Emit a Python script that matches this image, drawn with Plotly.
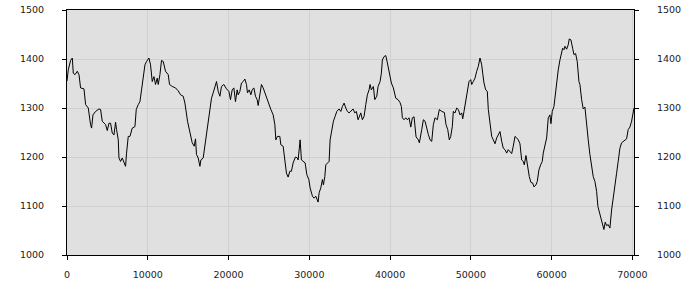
import plotly.graph_objects as go

x_vals = [0, 160, 445, 656, 779, 990, 1274, 1485, 1683, 2103, 2301, 2635, 2920, 3044, 3217, 3538,
          3959, 4157, 4367, 4776, 4986, 5196, 5394, 5604, 5815, 6013, 6137, 6347, 6433, 6631, 6842,
          7052, 7250, 7374, 7584, 7794, 8079, 8413, 8574, 8821, 9032, 9230, 9440, 9650, 9848, 10145,
          10343, 10553, 10764, 10962, 11172, 11296, 11506, 11704, 11914, 12199, 12533, 12694, 13028,
          13436, 13770, 14055, 14389, 14599, 14921, 15218, 15502, 15750, 15911, 16034, 16245, 16455,
          16578, 16863, 17073, 17271, 17482, 17692, 17890, 18100, 18311, 18509, 18719, 18929, 19127,
          19424, 19746, 20043, 20241, 20451, 20661, 20859, 21070, 21193, 21404, 21602, 21812, 22022,
          22220, 22344, 22555, 22765, 22925, 23136, 23334, 23544, 23667, 23878, 24076, 24286, 24497,
          24695, 24905, 25239, 25524, 25734, 25858, 26055, 26352, 26476, 26761, 26971, 27169, 27379,
          27590, 27788, 27998, 28283, 28530, 28616, 28740, 28864, 29025, 29272, 29483, 29693, 29940,
          30101, 30386, 30596, 30806, 31091, 31215, 31425, 31623, 31747, 31920, 32043, 32241, 32452,
          32576, 32737, 32984, 33194, 33404, 33689, 33899, 34097, 34307, 34518, 34716, 34926, 35136,
          35421, 35631, 35829, 36040, 36250, 36374, 36572, 36782, 36992, 37190, 37401, 37524, 37685,
          37932, 38106, 38353, 38514, 38762, 38922, 39046, 39256, 39467, 39665, 39875, 40160, 40407,
          40704, 40989, 41237, 41397, 41521, 41731, 41941, 42139, 42350, 42560, 42758, 42968, 43093,
          43216, 43501, 43624, 43921, 44119, 44329, 44539, 44737, 44948, 45158, 45356, 45566, 45851,
          46098, 46395, 46717, 46927, 47137, 47335, 47508, 47706, 47830, 48041, 48251, 48449, 48659,
          48869, 48993, 49154, 49364, 49562, 49773, 49983, 50107, 50305, 50515, 50725, 50923, 51134,
          51344, 51468, 51629, 51839, 52037, 52161, 52371, 52581, 52779, 52990, 53200, 53398, 53608,
          53818, 54016, 54227, 54437, 54635, 54845, 55055, 55253, 55464, 55674, 55872, 56082, 56293,
          56491, 56614, 56825, 56986, 57233, 57444, 57654, 57815, 58062, 58223, 58433, 58643, 58841,
          58965, 59176, 59386, 59584, 59794, 59918, 60079, 60289, 60413, 60623, 60821, 61031, 61241,
          61365, 61526, 61650, 61860, 62058, 62182, 62392, 62602, 62763, 62973, 63171, 63382, 63506,
          63716, 63914, 64124, 64334, 64532, 64743, 64953, 65151, 65362, 65572, 65733, 65894, 66066,
          66264, 66475, 66636, 66809, 67007, 67217, 67427, 67625, 67836, 68046, 68244, 68454, 68665,
          68863, 69073, 69283, 69481, 69692, 69902, 70200]

y_vals = [1355, 1378, 1397, 1402, 1371, 1368, 1375, 1368, 1341, 1339, 1307, 1300, 1266, 1259, 1286, 1293,
          1298, 1297, 1273, 1266, 1254, 1269, 1269, 1249, 1245, 1271, 1256, 1235, 1198, 1191, 1198,
          1188, 1181, 1208, 1242, 1242, 1259, 1262, 1297, 1307, 1313, 1337, 1364, 1388, 1395, 1402,
          1388, 1354, 1364, 1348, 1361, 1348, 1368, 1397, 1395, 1375, 1368, 1348, 1344,
          1341, 1335, 1327, 1324, 1310, 1273, 1249, 1229, 1222, 1237, 1205, 1198, 1181,
          1194, 1198, 1222, 1246, 1266, 1300, 1320, 1331, 1344, 1354, 1334, 1324, 1344,
          1348, 1339, 1334, 1317, 1337, 1341, 1313, 1337, 1327, 1334, 1351, 1354, 1359,
          1348, 1331, 1337, 1327, 1337, 1341, 1324, 1317, 1305, 1324, 1348, 1341, 1331,
          1324, 1310, 1297, 1286, 1266, 1235, 1242, 1242, 1225, 1222, 1188, 1167, 1159,
          1171, 1171, 1188, 1200, 1198, 1194, 1215, 1235, 1194, 1191, 1188, 1164, 1154,
          1137, 1120, 1116, 1120, 1108, 1127, 1137, 1154, 1143, 1160, 1184, 1188, 1191,
          1235, 1249, 1273, 1283, 1293, 1298, 1293, 1303, 1310, 1300, 1293, 1290, 1293,
          1298, 1290, 1293, 1276, 1286, 1290, 1276, 1283, 1307, 1327, 1337, 1348, 1337,
          1344, 1317, 1324, 1344, 1354, 1371, 1398, 1405, 1407, 1392, 1375, 1351, 1341,
          1320, 1317, 1311, 1303, 1280, 1276, 1280, 1276, 1280, 1261, 1280, 1282, 1262,
          1241, 1235, 1229, 1256, 1276, 1273, 1256, 1246, 1235, 1232, 1266, 1280, 1276,
          1297, 1293, 1291, 1266, 1256, 1235, 1242, 1262, 1293, 1290, 1300, 1297, 1286,
          1290, 1278, 1293, 1313, 1337, 1354, 1358, 1348, 1354, 1361, 1375, 1385, 1402,
          1388, 1371, 1351, 1337, 1334, 1297, 1262, 1242, 1235, 1227, 1239, 1246, 1252,
          1232, 1218, 1215, 1208, 1215, 1211, 1207, 1222, 1242, 1239, 1235, 1227, 1194,
          1191, 1184, 1203, 1184, 1160, 1148, 1147, 1139, 1143, 1150, 1174, 1184, 1191,
          1208, 1222, 1239, 1280, 1286, 1268, 1293, 1303, 1324, 1354, 1378, 1398, 1412,
          1422, 1419, 1426, 1420, 1429, 1441, 1439, 1422, 1409, 1411, 1395, 1354, 1348,
          1317, 1298, 1302, 1262, 1235, 1205, 1184, 1160, 1150, 1130, 1099, 1089, 1076,
          1062, 1052, 1067, 1060, 1062, 1055, 1092, 1113, 1140, 1167, 1191, 1218, 1229,
          1232, 1235, 1237, 1256, 1261, 1273, 1300]

x_ticks = [0, 10000, 20000, 30000, 40000, 50000, 60000, 70000]
y_ticks = [1000, 1100, 1200, 1300, 1400, 1500]

font = dict(family="DejaVu Sans", size=9.5, color="#222222")

fig = go.Figure()
fig.add_trace(go.Scatter(x=x_vals, y=y_vals, mode="lines",
                         line=dict(color="#000000", width=1), showlegend=False))
# invisible trace to activate right axis
fig.add_trace(go.Scatter(x=[x_vals[0]], y=[y_vals[0]], yaxis="y2", mode="lines",
                         line=dict(width=0), showlegend=False, hoverinfo="skip"))

axis_common = dict(showline=True, linecolor="#000000", linewidth=1, ticks="outside",
                   ticklen=4, tickcolor="#000000", tickfont=font, zeroline=False,
                   automargin=False)

fig.update_layout(
    width=700, height=300,
    margin=dict(l=67, r=66, t=10, b=45),
    paper_bgcolor="#ffffff",
    plot_bgcolor="#e0e0e0",
    xaxis=dict(range=[0, 70200], tickvals=x_ticks, ticktext=[str(v) for v in x_ticks],
               showgrid=True, gridcolor="#d0d0d0", gridwidth=1, mirror=True,
               ticklabelstandoff=7, **axis_common),
    yaxis=dict(range=[1000, 1500], tickvals=y_ticks, ticktext=[str(v) for v in y_ticks],
               showgrid=True, gridcolor="#d0d0d0", gridwidth=1,
               ticklabelstandoff=16, **axis_common),
    yaxis2=dict(range=[1000, 1500], tickvals=y_ticks, ticktext=[str(v) for v in y_ticks],
                overlaying="y", side="right", showgrid=False,
                ticklabelstandoff=16, **axis_common),
)

fig.write_html("out.html")
